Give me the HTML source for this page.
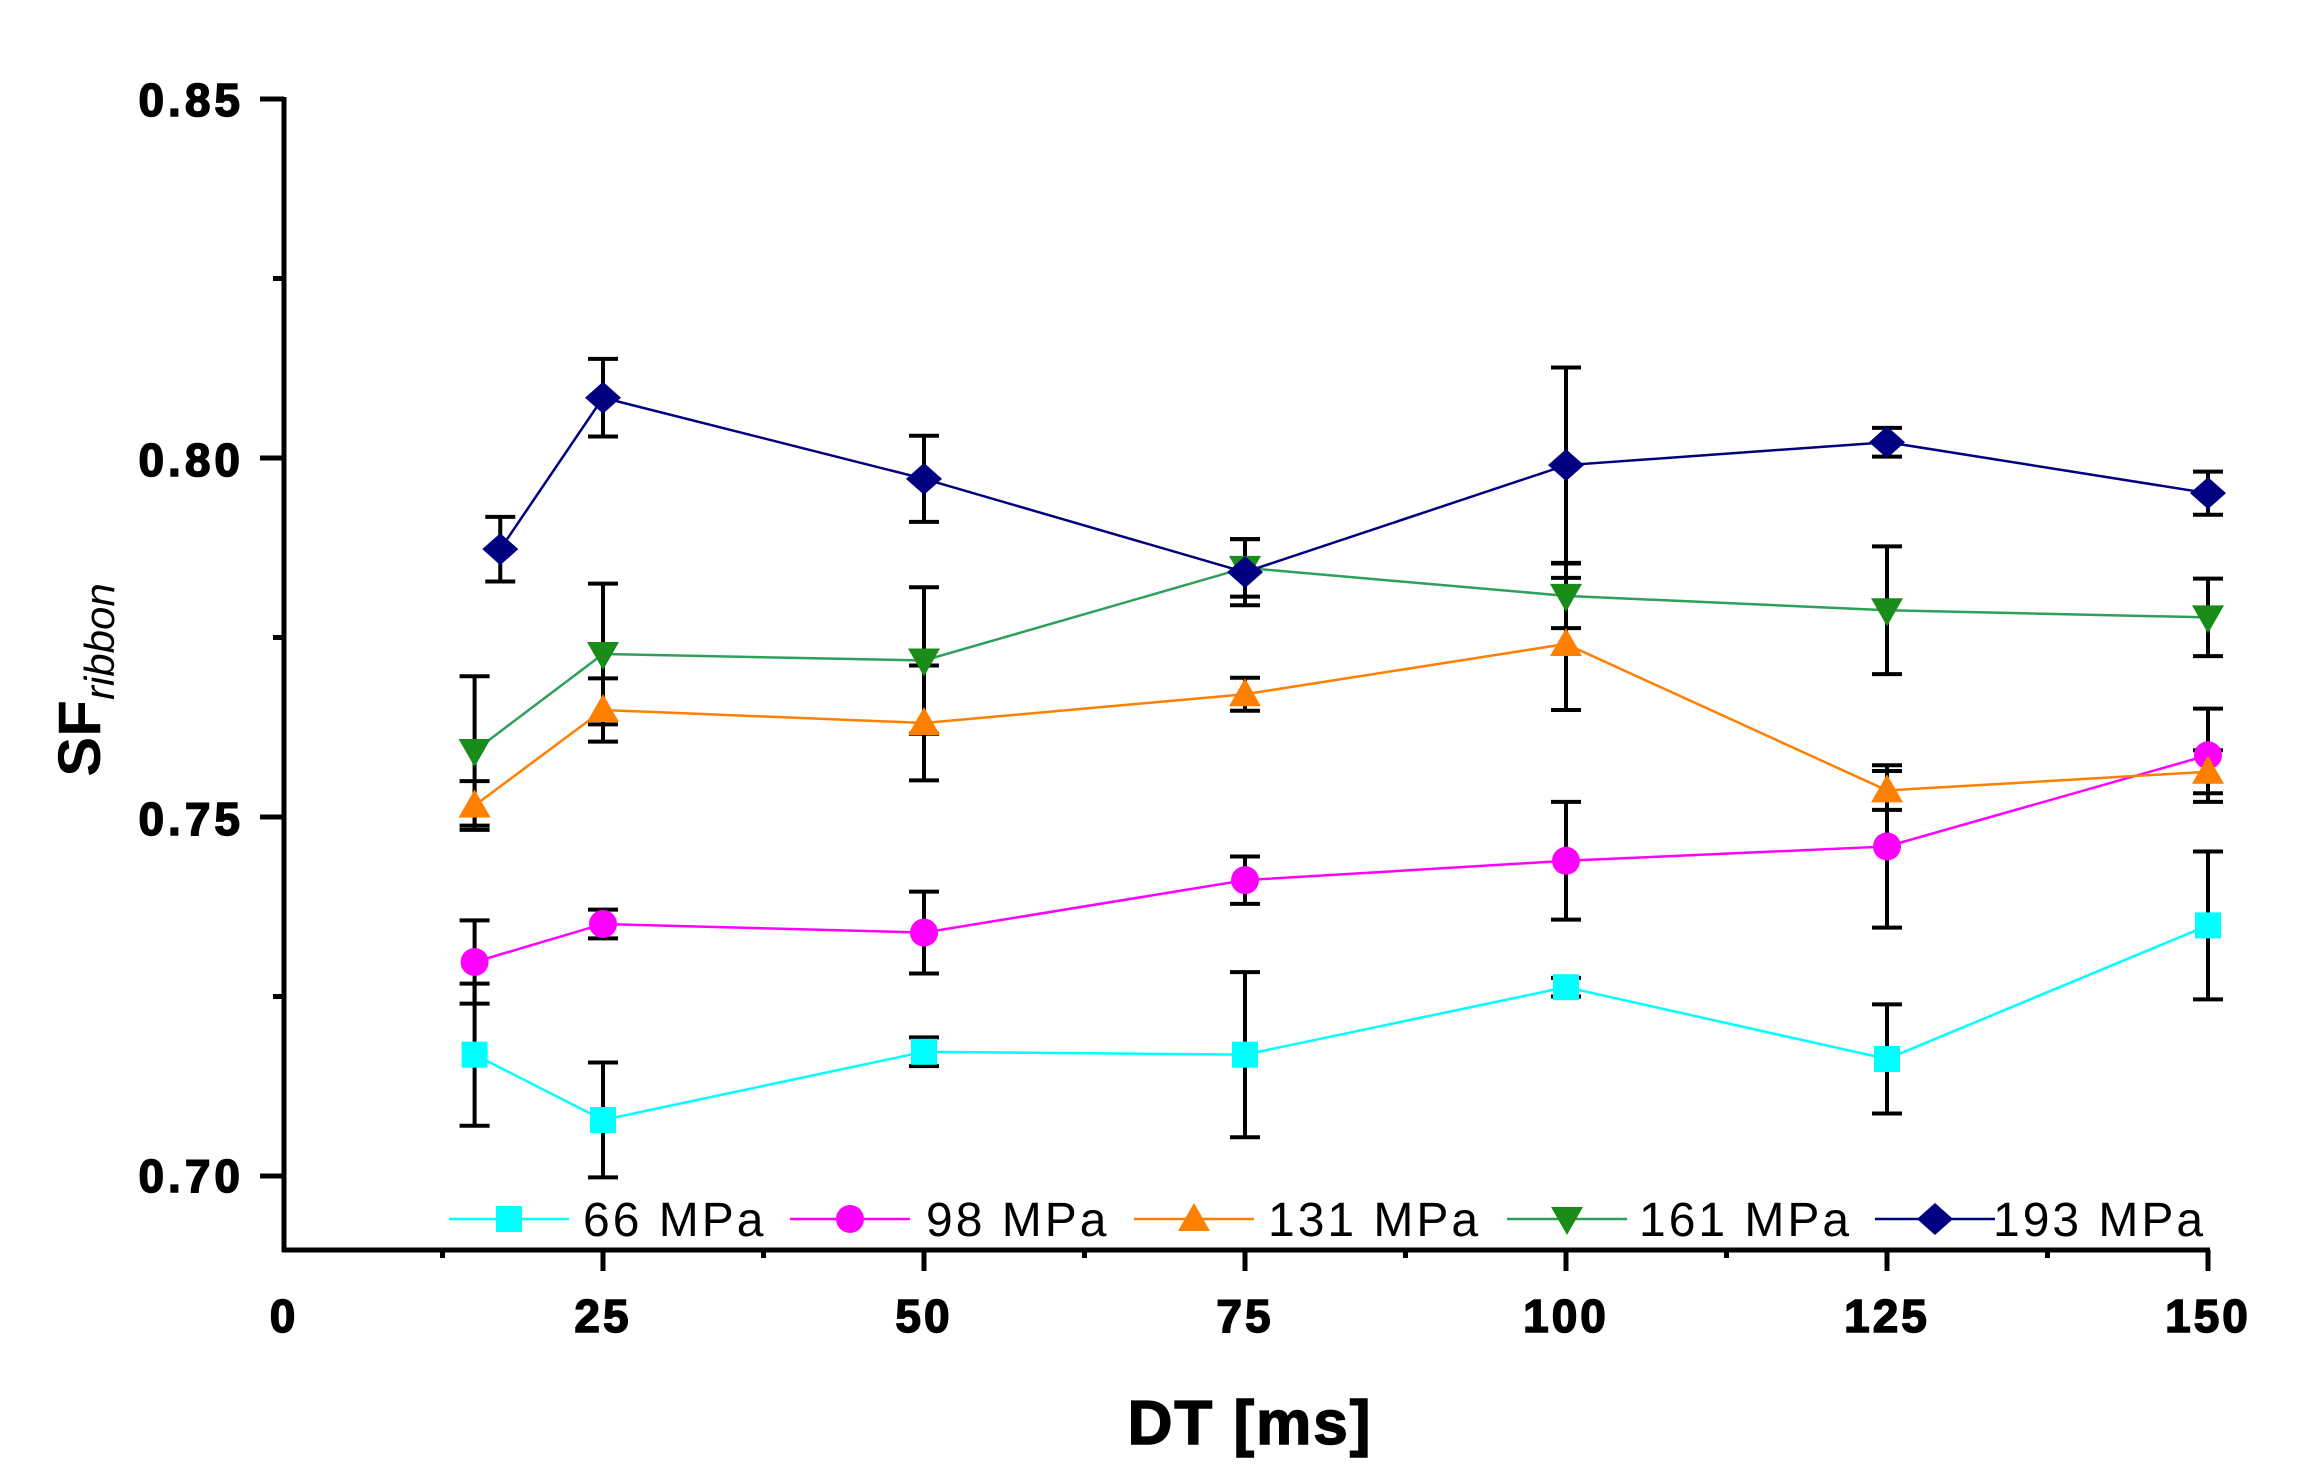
<!DOCTYPE html>
<html><head><style>
html,body{margin:0;padding:0;background:#fff;}
svg{display:block;font-family:"Liberation Sans",Arial,sans-serif;}
</style></head><body>
<svg id="s" width="2300" height="1481" viewBox="0 0 2300 1481" xmlns="http://www.w3.org/2000/svg">
<rect width="2300" height="1481" fill="#fff"/>
<g id="ax" stroke="#000" stroke-width="5" fill="none"></g>
<g id="data"></g>
<g font-weight="bold" font-size="46" fill="#000" text-anchor="end" letter-spacing="4" stroke="#000" stroke-width="1.5">
<text x="244" y="116">0.85</text>
<text x="244" y="476">0.80</text>
<text x="244" y="835">0.75</text>
<text x="244" y="1192">0.70</text>
</g>
<g font-weight="bold" font-size="46" fill="#000" text-anchor="middle" letter-spacing="3" stroke="#000" stroke-width="1.5">
<text x="284" y="1332">0</text>
<text x="603" y="1332">25</text>
<text x="924" y="1332">50</text>
<text x="1245" y="1332">75</text>
<text x="1566" y="1332">100</text>
<text x="1887" y="1332">125</text>
<text x="2208" y="1332">150</text>
<text x="1250" y="1444" font-size="62" letter-spacing="2">DT [ms]</text>
</g>
<text transform="translate(100,680) rotate(-90)" text-anchor="middle" font-weight="bold" font-size="60">SF<tspan font-size="42" font-style="italic" font-weight="normal" dy="14">ribbon</tspan></text>
<g id="leg" font-size="48" fill="#000" letter-spacing="3"></g>
</svg>
<script>
const NS="http://www.w3.org/2000/svg";
const X=v=>282+v*12.84, Y=v=>1176-(v-0.70)*7180;
function el(p,t,a){const e=document.createElementNS(NS,t);for(const k in a)e.setAttribute(k,a[k]);p.appendChild(e);return e;}
const ax=document.getElementById('ax');
el(ax,'line',{x1:284,y1:Y(0.85)-2,x2:284,y2:1252});
el(ax,'line',{x1:282,y1:1250,x2:2210,y2:1250});
for(let i=0;i<=6;i++){const v=0.70+i*0.025;const L=i%2==0?24:11;el(ax,'line',{x1:284-L,y1:Y(v),x2:284,y2:Y(v)});}
for(let i=1;i<=12;i++){const L=i%2==0?21:8;el(ax,'line',{x1:X(i*12.5),y1:1250,x2:X(i*12.5),y2:1250+L});}
const series=[
{c:'#00ffff',m:'sq',n:'66 MPa',lx:509,tx:583,d:[[15,.7169,.0099],[25,.7078,.008],[50,.7173,.002],[75,.7169,.0115],[100,.7263,.0013],[125,.7163,.0076],[150,.7349,.0103]]},
{c:'#ff00ff',m:'ci',n:'98 MPa',lx:850,tx:926,d:[[15,.7298,.0058],[25,.7351,.002],[50,.7339,.0057],[75,.7412,.0033],[100,.7439,.0082],[125,.7459,.0113],[150,.7586,.0065]]},
{c:'#ff8000',m:'tu',n:'131 MPa',lx:1194,tx:1268,d:[[15,.7516,.0034],[25,.7649,.0044],[50,.7631,.008],[75,.7671,.0023],[100,.7741,.0092],[125,.7537,.0027],[150,.7563,.003]]},
{c:'#1a8c1a',lc:'#2ea05a',m:'td',n:'161 MPa',lx:1567,tx:1639,d:[[15,.7592,.0104],[25,.7727,.0098],[50,.7718,.0102],[75,.7847,.004],[100,.7808,.0045],[125,.7788,.0089],[150,.7778,.0054]]},
{c:'#000080',m:'di',n:'193 MPa',lx:1935,tx:1993,d:[[17,.7873,.0045],[25,.8084,.0054],[50,.7971,.006],[75,.7841,.0046],[100,.799,.0136],[125,.8022,.002],[150,.7951,.003]]}
];
function marker(g,t,x,y,c){const r=14;
 if(t=='sq')el(g,'rect',{x:x-r+1,y:y-r+1,width:2*r-2,height:2*r-2,fill:c});
 else if(t=='ci')el(g,'circle',{cx:x,cy:y,r:r,fill:c});
 else if(t=='tu')el(g,'polygon',{points:`${x},${y-r-2} ${x+r+2},${y+r-2} ${x-r-2},${y+r-2}`,fill:c});
 else if(t=='td')el(g,'polygon',{points:`${x},${y+r+2} ${x+r+2},${y-r+2} ${x-r-2},${y-r+2}`,fill:c});
 else el(g,'polygon',{points:`${x},${y-r-2} ${x+r+4},${y} ${x},${y+r+2} ${x-r-4},${y}`,fill:c});}
const g=document.getElementById('data'),lg=document.getElementById('leg');
series.forEach(s=>{
 el(g,'polyline',{points:s.d.map(p=>X(p[0])+','+Y(p[1])).join(' '),fill:'none',stroke:s.lc||s.c,'stroke-width':2.5});
});
series.forEach(s=>{
 s.d.forEach(p=>{const x=X(p[0]),y1=Y(p[1]+p[2]),y2=Y(p[1]-p[2]);
  el(g,'line',{x1:x,y1:y1,x2:x,y2:y2,stroke:'#000','stroke-width':4});
  el(g,'line',{x1:x-15,y1:y1,x2:x+15,y2:y1,stroke:'#000','stroke-width':4});
  el(g,'line',{x1:x-15,y1:y2,x2:x+15,y2:y2,stroke:'#000','stroke-width':4});});
});
series.forEach(s=>{s.d.forEach(p=>marker(g,s.m,X(p[0]),Y(p[1]),s.c));
 el(lg,'line',{x1:s.lx-60,y1:1219,x2:s.lx+60,y2:1219,stroke:s.lc||s.c,'stroke-width':2.5});
 marker(lg,s.m,s.lx,1219,s.c);
 const t=el(lg,'text',{x:s.tx,y:1236});t.textContent=s.n;});
</script>
</body></html>
